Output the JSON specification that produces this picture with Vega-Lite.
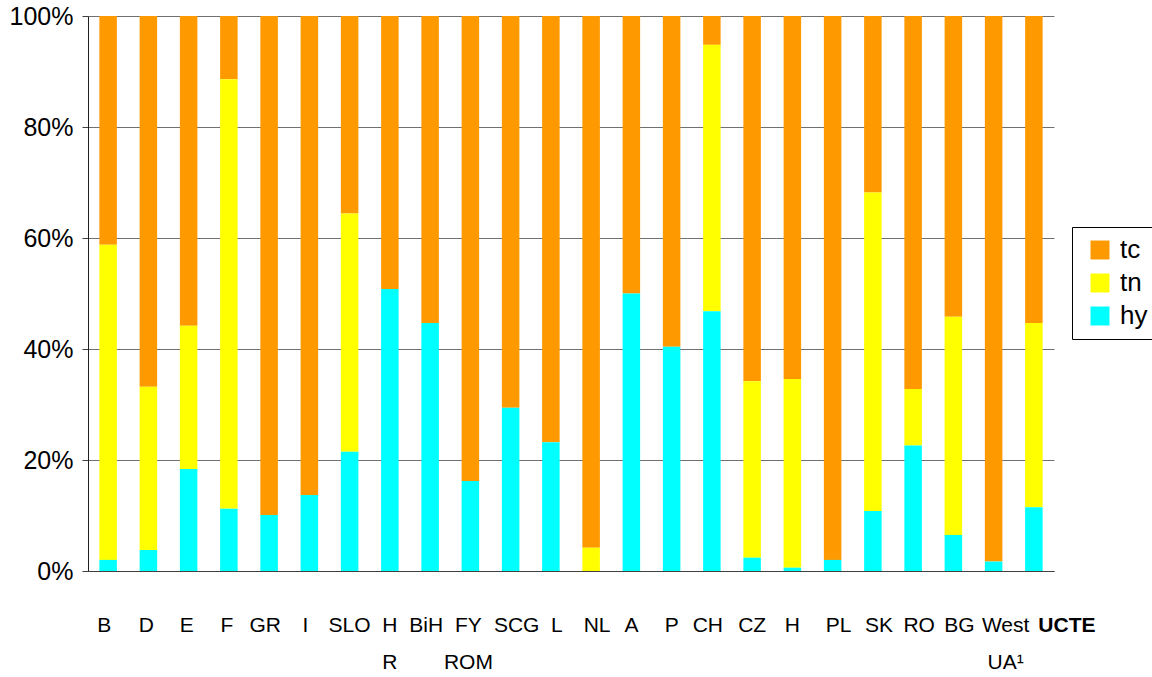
{
  "$schema": "https://vega.github.io/schema/vega-lite/v6.json",
  "width": 966,
  "height": 555,
  "autosize": {"type": "none"},
  "padding": {"left": 88, "top": 16, "right": 98, "bottom": 106},
  "background": "white",
  "config": {
    "font": "Liberation Sans",
    "view": {"stroke": null}
  },
  "data": {
    "values": [
      {"country": "B", "hy": 2.0, "tn": 56.8, "tc": 41.2},
      {"country": "D", "hy": 3.8, "tn": 29.4, "tc": 66.8},
      {"country": "E", "hy": 18.4, "tn": 25.8, "tc": 55.8},
      {"country": "F", "hy": 11.2, "tn": 77.4, "tc": 11.4},
      {"country": "GR", "hy": 10.1, "tn": 0, "tc": 89.9},
      {"country": "I", "hy": 13.7, "tn": 0, "tc": 86.3},
      {"country": "SLO", "hy": 21.5, "tn": 42.9, "tc": 35.6},
      {"country": "H|R", "hy": 50.8, "tn": 0, "tc": 49.2},
      {"country": "BiH", "hy": 44.7, "tn": 0, "tc": 55.3},
      {"country": "FY|ROM", "hy": 16.2, "tn": 0, "tc": 83.8},
      {"country": "SCG", "hy": 29.4, "tn": 0, "tc": 70.6},
      {"country": "L", "hy": 23.2, "tn": 0, "tc": 76.8},
      {"country": "NL", "hy": 0, "tn": 4.2, "tc": 95.8},
      {"country": "A", "hy": 50.0, "tn": 0, "tc": 50.0},
      {"country": "P", "hy": 40.4, "tn": 0, "tc": 59.6},
      {"country": "CH", "hy": 46.8, "tn": 48.0, "tc": 5.2},
      {"country": "CZ", "hy": 2.4, "tn": 31.8, "tc": 65.8},
      {"country": "H", "hy": 0.6, "tn": 34.0, "tc": 65.4},
      {"country": "PL", "hy": 2.0, "tn": 0, "tc": 98.0},
      {"country": "SK", "hy": 10.8, "tn": 57.4, "tc": 31.8},
      {"country": "RO", "hy": 22.6, "tn": 10.2, "tc": 67.2},
      {"country": "BG", "hy": 6.5, "tn": 39.3, "tc": 54.2},
      {"country": "West|UA¹", "hy": 1.7, "tn": 0, "tc": 98.3},
      {"country": "UCTE", "hy": 11.5, "tn": 33.2, "tc": 55.3}
    ]
  },
  "transform": [
    {"fold": ["tc", "tn", "hy"], "as": ["type", "value"]},
    {"calculate": "indexof(['hy','tn','tc'], datum.type)", "as": "ord"}
  ],
  "mark": {"type": "bar"},
  "encoding": {
    "x": {
      "field": "country",
      "type": "nominal",
      "sort": null,
      "scale": {"paddingInner": 0.565, "paddingOuter": 0.2825},
      "axis": {
        "title": null,
        "labelAngle": 0,
        "ticks": false,
        "labelPadding": 43,
        "labelFontSize": 21,
        "labelColor": "black",
        "labelLineHeight": 37,
        "labelBaseline": "top",
        "labelExpr": "split(datum.label, '|')",
        "labelFontWeight": {"condition": {"test": "datum.value == 'UCTE'", "value": "bold"}, "value": "normal"},
        "labelOffset": {
          "condition": [
            {"test": "datum.value == 'UCTE'", "value": 33},
            {"test": "datum.value == 'West|UA¹'", "value": 12},
            {"test": "indexof(['SCG','L','NL','PL','SK','RO','BG'], datum.value) >= 0", "value": 6},
            {"test": "indexof(['B','GR','I','BiH','CH'], datum.value) >= 0", "value": -4},
            {"test": "indexof(['D','E','F','FY|ROM'], datum.value) >= 0", "value": -2}
          ],
          "value": 0
        },
        "domainColor": "#404040",
        "domainWidth": 1,
        "grid": false
      }
    },
    "y": {
      "field": "value",
      "type": "quantitative",
      "stack": "normalize",
      "scale": {"domain": [0, 1]},
      "axis": {
        "title": null,
        "values": [0, 0.2, 0.4, 0.6, 0.8, 1],
        "format": ".0%",
        "labelFontSize": 25,
        "labelColor": "black",
        "labelPadding": 9,
        "tickSize": 6,
        "tickColor": "#404040",
        "domainColor": "#202020",
        "grid": true,
        "gridColor": "#707070",
        "gridWidth": 1
      }
    },
    "color": {
      "field": "type",
      "type": "nominal",
      "scale": {"domain": ["tc", "tn", "hy"], "range": ["#FF9900", "#FFFF00", "#00FFFF"]},
      "legend": {
        "title": null,
        "orient": "none",
        "legendX": 984,
        "legendY": 211,
        "padding": 10,
        "strokeColor": "black",
        "fillColor": "white",
        "symbolType": "square",
        "symbolSize": 360,
        "symbolOffset": 5,
        "symbolStrokeWidth": 0,
        "labelFontSize": 26,
        "labelColor": "black",
        "labelOffset": 7,
        "rowPadding": 7
      }
    },
    "order": {"field": "ord", "type": "quantitative"}
  }
}
